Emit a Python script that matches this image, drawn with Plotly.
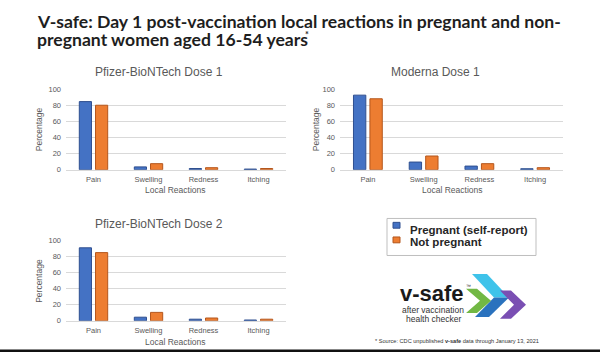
import plotly.graph_objects as go

W, H = 600, 357

categories = ["Pain", "Swelling", "Redness", "Itching"]
tick_vals = [0, 20, 40, 60, 80, 100]
tick_text = ["0", "20", "40", "60", "80", "100"]

pfizer1_pregnant = [84.5, 3.5, 1.5, 0.8]
pfizer1_not = [80, 7.5, 2.5, 1.5]
moderna1_pregnant = [92.5, 9.5, 4.5, 1.2]
moderna1_not = [88, 17, 7.5, 2.5]
pfizer2_pregnant = [91, 4.5, 2, 1]
pfizer2_not = [85, 10.5, 3.5, 2]

series_names = ["Pregnant (self-report)", "Not pregnant"]
panel_titles = ["Pfizer-BioNTech Dose 1", "Moderna Dose 1", "Pfizer-BioNTech Dose 2"]

BLUE, BLUE_EDGE = "#4472C4", "#2F4F8F"
ORANGE, ORANGE_EDGE = "#ED7D31", "#B4561C"
GREY = "#595959"
GRID = "#D9D9D9"
FONT = "Liberation Sans, Arial, sans-serif"


def fx(x):
    return x / W


def fy(y):
    return 1 - y / H


fig = go.Figure()

# panel geometry in pixels: (x0, x1, y_top(100), y_bottom(0))
panels = [
    (66, 286, 87.3, 170, "x", "y", pfizer1_pregnant, pfizer1_not),
    (340, 563, 87.3, 170, "x2", "y2", moderna1_pregnant, moderna1_not),
    (66, 286, 242.7, 325, "x3", "y3", pfizer2_pregnant, pfizer2_not),
]

for (x0, x1, yt, yb, xa, ya, preg, notp) in panels:
    fig.add_trace(go.Bar(x=categories, y=preg, name=series_names[0], xaxis=xa, yaxis=ya,
                         marker=dict(color=BLUE, line=dict(color=BLUE_EDGE, width=1)),
                         showlegend=False, hoverinfo="skip"))
    fig.add_trace(go.Bar(x=categories, y=notp, name=series_names[1], xaxis=xa, yaxis=ya,
                         marker=dict(color=ORANGE, line=dict(color=ORANGE_EDGE, width=1)),
                         showlegend=False, hoverinfo="skip"))

layout = dict(
    width=W, height=H, margin=dict(l=0, r=0, t=0, b=0),
    paper_bgcolor="white", plot_bgcolor="white",
    barmode="group", bargap=0.41, bargroupgap=0.25,
    font=dict(family=FONT, color=GREY),
    showlegend=False,
)
for i, (x0, x1, yt, yb, xa, ya, preg, notp) in enumerate(panels):
    xk = "xaxis" if i == 0 else f"xaxis{i+1}"
    yk = "yaxis" if i == 0 else f"yaxis{i+1}"
    layout[xk] = dict(domain=[fx(x0), fx(x1)], anchor=ya, showgrid=False, zeroline=False,
                      showline=True, linecolor=GRID, linewidth=1, ticks="",
                      tickfont=dict(size=7.5, color=GREY, family=FONT), ticklabelstandoff=2,
                      fixedrange=True)
    layout[yk] = dict(domain=[fy(yb), fy(yt)], anchor=xa, range=[0, 100], tickvals=tick_vals,
                      ticktext=tick_text, showgrid=True, gridcolor=GRID, gridwidth=1,
                      zeroline=False, showline=False, ticks="",
                      tickfont=dict(size=7.5, color=GREY, family=FONT), ticklabelstandoff=4,
                      fixedrange=True)
fig.update_layout(**layout)

ann = []


def text(x, y, s, size, color=GREY, xanchor="center", yanchor="middle", family=FONT, angle=0, weight=None):
    f = dict(size=size, color=color, family=family)
    if weight:
        f["weight"] = weight
    ann.append(dict(x=fx(x), y=fy(y), xref="paper", yref="paper", text=s, showarrow=False,
                    xanchor=xanchor, yanchor=yanchor, font=f, textangle=angle))


# main title
TITLE_FONT = "Lato, Open Sans, sans-serif"
text(35, 17.5, "V-safe: Day 1 post-vaccination local reactions in pregnant and non-", 17.6,
     color="#1E1E1E", xanchor="left", family=TITLE_FONT, weight=700)
text(35, 36.5, "pregnant women aged 16-54 years", 17.6,
     color="#1E1E1E", xanchor="left", family=TITLE_FONT, weight=700)
text(303, 31, "*", 9, color="#1E1E1E", xanchor="left", family=TITLE_FONT, weight=700)

# panel titles and axis titles
text(159, 70, panel_titles[0], 12)
text(435, 70, panel_titles[1], 12)
text(159, 226, panel_titles[2], 12)
for (xc, yc) in [(175, 191), (452, 191), (175, 347)]:
    text(xc, yc, "Local Reactions", 8.5)
for (xc, yc) in [(39, 128.5), (316, 128.5), (39, 284)]:
    text(xc, yc, "Percentage", 8.5, angle=-90)

# legend
shapes = []
shapes.append(dict(type="rect", xref="paper", yref="paper", x0=fx(387), x1=fx(536), y0=fy(258), y1=fy(220),
                   line=dict(color="#BFBFBF", width=1), fillcolor="white"))
shapes.append(dict(type="rect", xref="paper", yref="paper", x0=fx(393), x1=fx(400), y0=fy(230), y1=fy(224),
                   line=dict(color=BLUE_EDGE, width=1), fillcolor=BLUE))
shapes.append(dict(type="rect", xref="paper", yref="paper", x0=fx(393), x1=fx(400), y0=fy(245), y1=fy(239),
                   line=dict(color=ORANGE_EDGE, width=1), fillcolor=ORANGE))
text(408, 232, "<b>" + series_names[0] + "</b>", 11.5, color="#262626", xanchor="left")
text(408, 244.5, "<b>" + series_names[1] + "</b>", 11.5, color="#262626", xanchor="left")


# logo chevrons
def poly(pts, color):
    d = "M " + " L ".join(f"{fx(x):.5f},{fy(y):.5f}" for x, y in pts) + " Z"
    shapes.append(dict(type="path", xref="paper", yref="paper", path=d, fillcolor=color,
                       line=dict(width=0)))


poly([(472, 277), (487, 277), (509, 301), (494, 301)], "#3FC3EA")
poly([(494, 301), (509, 301), (489, 321), (475, 321)], "#2A72BE")
poly([(466, 292), (477, 292), (491, 304.5), (477, 317), (466, 317), (480, 304.5)], "#72B844")
poly([(500, 294), (511, 294), (526, 308.5), (511, 323), (500, 323), (514, 308.5)], "#7A4FB3")

text(432, 296.5, "<b>v-safe</b>", 22, color="#1A1A1A", family="Liberation Sans, Arial")
text(468, 289, "™", 5, color="#1A1A1A")
text(433, 313.5, "after vaccination", 8.5, color="#333333", family="Liberation Sans Narrow, Liberation Sans, Arial")
text(433, 323, "health checker", 8.5, color="#333333", family="Liberation Sans Narrow, Liberation Sans, Arial")

text(373, 346, "* Source: CDC unpublished <b>v-safe</b> data through January 13, 2021", 5.6,
     color="#333333", xanchor="left", family="Liberation Sans Narrow, Liberation Sans, Arial")

# bottom dark border
shapes.append(dict(type="rect", xref="paper", yref="paper", x0=0, x1=1, y0=0, y1=fy(354.5),
                   line=dict(width=0), fillcolor="#111111"))

fig.update_layout(annotations=ann, shapes=shapes)
fig.write_html("out.html", config={"displayModeBar": False},
               post_script="document.body.style.margin='0';document.body.style.padding='0';"
                           "document.body.style.overflow='hidden';")
